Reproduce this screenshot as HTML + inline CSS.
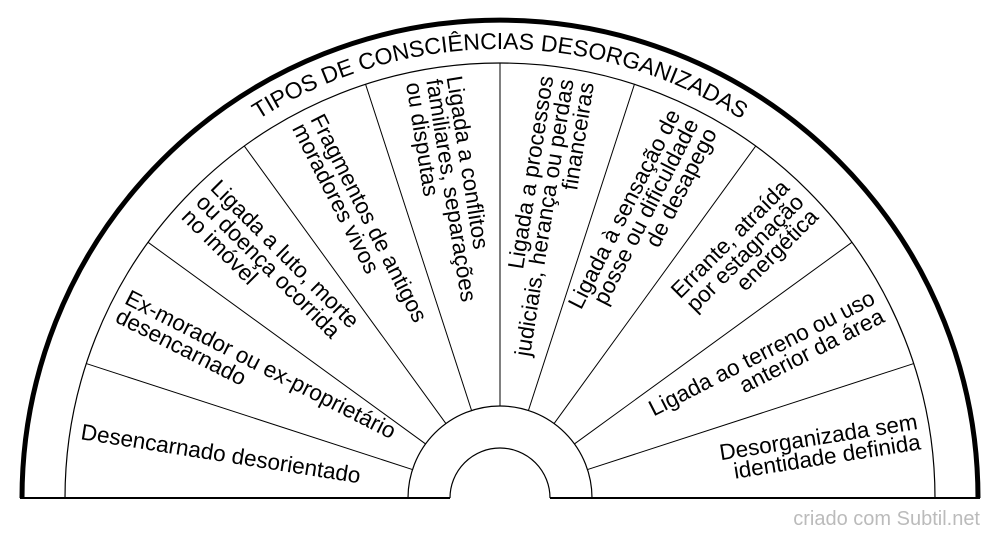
<!DOCTYPE html>
<html><head><meta charset="utf-8"><style>
html,body{margin:0;padding:0;background:#fff;width:1000px;height:540px;overflow:hidden}
svg{display:block}
text{font-family:"Liberation Sans",Arial,sans-serif;fill:#000}
</style></head><body>
<svg width="1000" height="540" viewBox="0 0 1000 540" xmlns="http://www.w3.org/2000/svg">
<defs><path id="tp" d="M 51 498 A 449 449 0 0 1 949 498"/></defs>
<g fill="none" stroke="#000">
<path d="M 22 498 A 478 478 0 0 1 978 498" stroke-width="5"/>
<path d="M 65 498 A 435 435 0 0 1 935 498" stroke-width="1.2"/>
<path d="M 408 498 A 92 92 0 0 1 592 498" stroke-width="1.2"/>
<path d="M 450 498 A 50 50 0 0 1 550 498" stroke-width="1.2"/>
<line x1="20" y1="498" x2="450" y2="498" stroke-width="2"/>
<line x1="550" y1="498" x2="980" y2="498" stroke-width="2"/>
<g stroke-width="1" id="rays"></g>
</g>
<text font-size="23" text-anchor="middle"><textPath href="#tp" startOffset="50%">TIPOS DE CONSCIÊNCIAS DESORGANIZADAS</textPath></text>
<g id="labels" font-size="22.5"></g>
<text x="980" y="525" font-size="20" text-anchor="end" style="fill:#bbb">criado com Subtil.net</text>
</svg>
<script>
var NS="http://www.w3.org/2000/svg",cx=500,cy=498;
var rays=document.getElementById("rays");
for(var i=1;i<10;i++){var a=i*18*Math.PI/180;var l=document.createElementNS(NS,"line");
l.setAttribute("x1",cx-92*Math.cos(a));l.setAttribute("y1",cy-92*Math.sin(a));
l.setAttribute("x2",cx-435*Math.cos(a));l.setAttribute("y2",cy-435*Math.sin(a));rays.appendChild(l);}
var T=[["Desencarnado desorientado"],["Ex-morador ou ex-proprietário","desencarnado"],["Ligada a luto, morte","ou doença ocorrida","no imóvel"],["Fragmentos de antigos","moradores vivos"],["Ligada a conflitos","familiares, separações","ou disputas"],["Ligada a processos","judiciais, herança ou perdas","financeiras"],["Ligada à sensação de","posse ou dificuldade","de desapego"],["Errante, atraída","por estagnação","energética"],["Ligada ao terreno ou uso","anterior da área"],["Desorganizada sem","identidade definida"]];
var G=document.getElementById("labels");
T.forEach(function(lines,i){var th=9+18*i,a=th*Math.PI/180,r=424;
var x=cx-r*Math.cos(a),y=cy-r*Math.sin(a);var left=th<90;
var g=document.createElementNS(NS,"g");g.setAttribute("transform","translate("+x+","+y+") rotate("+(left?th:th-180)+")");
var n=lines.length;lines.forEach(function(s,k){var t=document.createElementNS(NS,"text");
t.setAttribute("x",0);t.setAttribute("y",(k-(n-1)/2)*20.5+7.5);t.setAttribute("text-anchor",left?"start":"end");t.textContent=s;g.appendChild(t);});
G.appendChild(g);});
</script>
</body></html>
